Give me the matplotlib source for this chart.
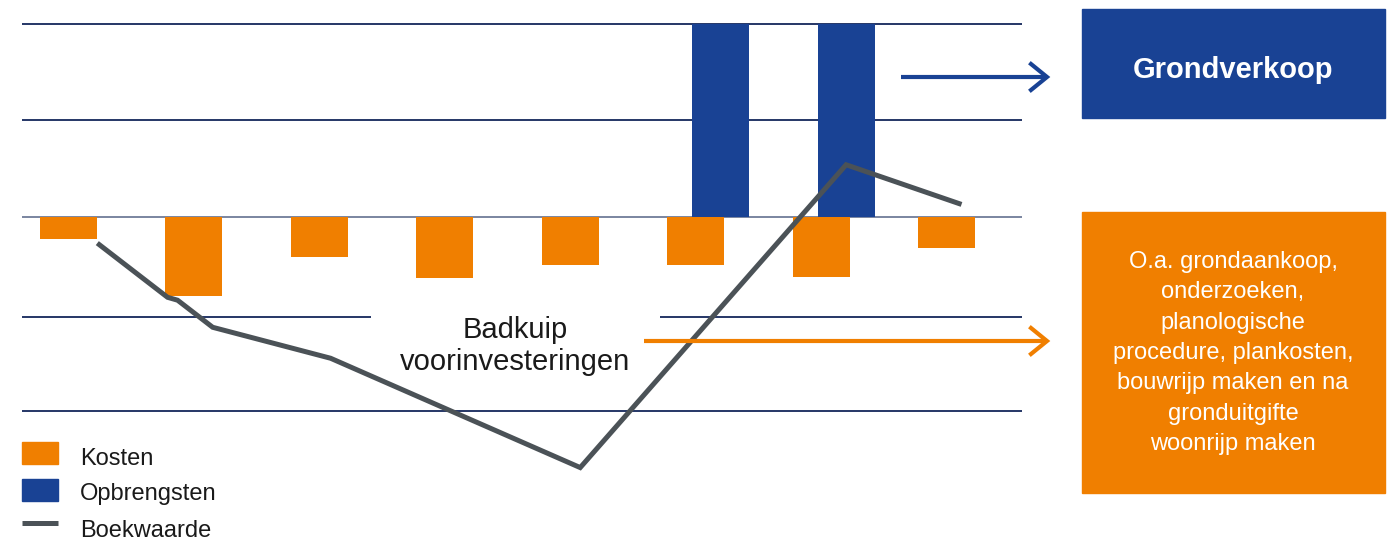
import matplotlib
matplotlib.use("Agg")
import matplotlib.pyplot as plt
from matplotlib.patches import Rectangle
from matplotlib.lines import Line2D

plt.rcParams['font.family'] = ['Liberation Sans', 'DejaVu Sans']

# Values, one grid step = 1 unit
fasen = [0, 1, 2, 3, 4, 5, 6, 7]
kosten = [-0.23, -0.82, -0.41, -0.63, -0.50, -0.50, -0.62, -0.32]
opbrengsten = [0, 0, 0, 0, 0, 2.0, 2.0, 0]
boek_x = [0.13, 0.69, 0.77, 1.05, 1.99, 3.98, 6.10, 7.02]
boek_y = [-0.27, -0.83, -0.86, -1.14, -1.46, -2.59, 0.54, 0.13]
grid_y = [2, 1, 0, -1.03, -2]
legend_labels = ['Kosten', 'Opbrengsten', 'Boekwaarde']
box_labels = ['Grondverkoop',
              'O.a. grondaankoop,\nonderzoeken,\nplanologische\nprocedure, plankosten,\n'
              'bouwrijp maken en na\ngronduitgifte\nwoonrijp maken']
badkuip_label = 'Badkuip\nvoorinvesteringen'

oranje = '#f07f00'
blauw = '#194294'
grijs = '#4b5257'
navy = '#14265a'

W, H = 1395, 540
fig = plt.figure(figsize=(W / 100, H / 100), dpi=100)
ax = fig.add_axes([0, 0, 1, 1])
ax.set_xlim(-0.6458, 10.476)
ax.set_ylim(-3.3385, 2.2429)
ax.axis('off')


def fx(x):
    return x / W


def fy(y):
    return 1 - y / H


# grid lines, the one under the zero line has a gap for the label
for i, g in enumerate(grid_y):
    if g == 0:
        ax.hlines(g, -0.47, 7.5, color='#6f7c99', lw=1.3, zorder=1)
    elif i == 3:
        ax.hlines(g, -0.47, 2.31, color=navy, lw=1.3, zorder=1)
        ax.hlines(g, 4.62, 7.5, color=navy, lw=1.3, zorder=1)
    else:
        ax.hlines(g, -0.47, 7.5, color=navy, lw=1.3, zorder=1)

pos_k = [f - 0.1 for f in fasen]
pos_o = [f + 0.1 for f in fasen]
ax.bar(pos_k, kosten, width=0.454, color=oranje, zorder=2)
ax.bar(pos_o, opbrengsten, width=0.454, color=blauw, zorder=2)
ax.plot(boek_x, boek_y, color=grijs, lw=3.6, solid_joinstyle='miter',
        solid_capstyle='butt', zorder=3)

ax.text(fx(515), fy(346), badkuip_label, transform=fig.transFigure,
        ha='center', va='center', fontsize=21, color='#1a1a1a', linespacing=1.17)


# arrows with open chevron heads
def pijl(x0, x1, y, kleur):
    fig.add_artist(Line2D([fx(x0), fx(x1 - 2)], [fy(y), fy(y)], color=kleur, lw=3,
                          solid_capstyle='butt', transform=fig.transFigure))
    fig.add_artist(Line2D([fx(x1 - 16), fx(x1), fx(x1 - 16)], [fy(y - 13), fy(y), fy(y + 13)],
                          color=kleur, lw=3, solid_joinstyle='miter',
                          transform=fig.transFigure))


pijl(901, 1047, 77, blauw)
pijl(644, 1047, 341, oranje)

# boxes on the right
fig.add_artist(Rectangle((fx(1082), fy(118)), 303 / W, 109 / H, color=blauw,
                         transform=fig.transFigure))
fig.text(fx(1233), fy(70), box_labels[0], ha='center', va='center', fontsize=21,
         fontweight='bold', color='white')
fig.add_artist(Rectangle((fx(1082), fy(493)), 303 / W, 281 / H, color=oranje,
                         transform=fig.transFigure))
fig.text(fx(1233), fy(353), box_labels[1], ha='center', va='center', fontsize=17,
         color='white', linespacing=1.49)

# legend
fig.add_artist(Rectangle((fx(22), fy(464)), 36 / W, 22 / H, color=oranje,
                         transform=fig.transFigure))
fig.add_artist(Rectangle((fx(22), fy(501)), 36 / W, 22 / H, color=blauw,
                         transform=fig.transFigure))
fig.add_artist(Line2D([fx(22), fx(58)], [fy(523), fy(523)], color=grijs, lw=3.6,
                      solid_capstyle='butt', transform=fig.transFigure))
for lab, yb in zip(legend_labels, [465, 500, 537]):
    fig.text(fx(80), fy(yb), lab, ha='left', va='baseline', fontsize=17, color='#1a1a1a')

fig.savefig('out.png', dpi=100)
